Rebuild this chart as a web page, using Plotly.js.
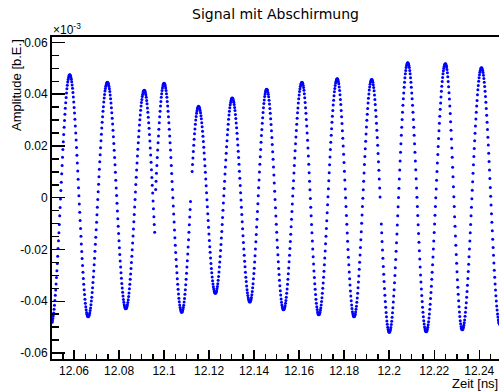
<!DOCTYPE html>
<html>
<head>
<meta charset="utf-8">
<script src="https://cdn.plot.ly/plotly-3.0.1.min.js"></script>
<style>
  html, body { margin: 0; padding: 0; background: #fff; }
  #chart { width: 499px; height: 392px; }
</style>
</head>
<body>
<div id="chart"></div>
<script>
// Two oscilloscope sweeps of the shielded signal.
// Time base in ns, amplitudes in units of 1e-6 b.E.
const sampleStep = 0.000178;
const sweepStart = [12.050257, 12.096262];

const sweepA = [
  -48.1,-47.5,-46.7,-45.7,-44.5,-43.1,-41.5,-39.7,-37.7,-35.6,-33.3,-30.8,-28.2,-25.4,-22.6,-19.6,-16.6,-13.5,-10.3,-7.0,-3.8,-0.5,2.8,6.0,9.3,12.5,15.6,18.6,21.6,24.4,27.2,29.8,32.3,34.6,36.7,38.7,40.5,42.1,43.5,44.7,45.7,46.5,47.1,47.4,
  47.5,47.4,47.1,46.5,45.8,44.8,43.6,42.3,40.7,38.9,37.0,34.9,32.7,30.3,27.7,25.0,22.3,19.4,16.4,13.4,10.3,7.1,3.9,0.8,-2.4,-5.6,-8.8,-11.9,-14.9,-17.9,-20.8,-23.5,-26.2,-28.8,-31.2,-33.4,-35.5,-37.4,-39.2,-40.8,-42.1,-43.3,-44.3,-45.0,-45.6,-45.9,
  -46.0,-45.9,-45.6,-45.1,-44.5,-43.6,-42.6,-41.3,-39.9,-38.4,-36.6,-34.8,-32.7,-30.6,-28.3,-25.9,-23.4,-20.7,-18.0,-15.3,-12.4,-9.5,-6.6,-3.7,-0.7,2.3,5.2,8.1,11.0,13.9,16.6,19.3,22.0,24.5,26.9,29.2,31.3,33.4,35.2,37.0,38.5,39.9,41.2,42.2,43.1,43.7,44.2,44.5,
  44.6,44.5,44.2,43.7,43.0,42.1,41.0,39.7,38.2,36.6,34.8,32.8,30.7,28.5,26.1,23.6,21.0,18.3,15.5,12.7,9.8,6.8,3.8,0.9,-2.1,-5.1,-8.1,-11.0,-13.8,-16.6,-19.3,-21.9,-24.4,-26.8,-29.0,-31.1,-33.1,-34.9,-36.5,-38.0,-39.3,-40.4,-41.3,-42.0,-42.5,-42.8,
  -42.9,-42.8,-42.5,-42.0,-41.3,-40.5,-39.4,-38.2,-36.8,-35.2,-33.4,-31.5,-29.5,-27.3,-25.0,-22.6,-20.1,-17.5,-14.8,-12.1,-9.3,-6.5,-3.6,-0.7,2.2,5.1,7.9,10.7,13.4,16.1,18.7,21.2,23.6,25.9,28.1,30.1,32.0,33.8,35.4,36.8,38.0,39.1,39.9,40.6,41.1,41.4,
  41.5,41.4,41.1,40.5,39.8,38.8,37.6,36.3,34.7,33.0,31.1,29.0,26.8,24.4,21.9,19.2,16.5,13.7,10.8,7.8,4.8,1.8,-1.3,-4.3,-7.3,-10.3,-13.3
];

const sweepB = [
  3.2,6.4,9.5,12.5,15.5,18.4,21.2,23.9,26.5,29.0,31.3,33.4,35.4,37.2,38.8,40.2,41.4,42.4,43.2,43.8,44.1,
  44.2,44.1,43.8,43.2,42.4,41.4,40.2,38.8,37.2,35.4,33.4,31.3,29.0,26.5,23.9,21.2,18.4,15.5,12.5,9.4,6.3,3.2,0.0,-3.2,-6.3,-9.4,-12.5,-15.5,-18.4,-21.2,-23.9,-26.5,-29.0,-31.3,-33.4,-35.4,-37.2,-38.8,-40.2,-41.4,-42.4,-43.2,-43.8,-44.1,
  -44.2,-44.1,-43.8,-43.2,-42.4,-41.5,-40.3,-38.9,-37.3,-35.5,-33.6,-31.5,-29.2,-26.8,-24.3,-21.7,-19.0,-16.2,-13.3,-10.4,-7.4,-4.5,-1.5,null,null,null,10.1,12.8,15.4,17.9,20.3,22.6,24.7,26.6,28.4,30.0,31.4,32.6,33.5,34.3,34.9,35.2,
  35.3,35.2,34.9,34.4,33.7,32.8,31.7,30.5,29.0,27.4,25.7,23.8,21.7,19.5,17.3,14.9,12.4,9.8,7.2,4.6,1.9,-0.8,-3.5,-6.2,-8.8,-11.4,-14.0,-16.5,-18.9,-21.1,-23.3,-25.4,-27.3,-29.0,-30.6,-32.1,-33.3,-34.4,-35.3,-36.0,-36.5,-36.8,
  -36.9,-36.8,-36.5,-36.0,-35.2,-34.3,-33.2,-31.9,-30.4,-28.7,-26.8,-24.8,-22.7,-20.4,-18.1,-15.6,-13.0,-10.3,-7.6,-4.8,-2.0,0.8,3.6,6.4,9.2,11.9,14.6,17.2,19.7,22.0,24.3,26.4,28.4,30.3,32.0,33.4,34.8,35.9,36.8,37.6,38.1,38.4,
  38.5,38.4,38.1,37.6,36.9,36.0,34.9,33.7,32.2,30.6,28.9,27.0,24.9,22.7,20.4,18.0,15.5,12.9,10.2,7.5,4.7,1.9,-0.9,-3.7,-6.5,-9.3,-12.0,-14.7,-17.3,-19.8,-22.2,-24.5,-26.7,-28.8,-30.7,-32.4,-34.1,-35.5,-36.7,-37.8,-38.7,-39.4,-39.9,-40.2,
  -40.3,-40.2,-39.8,-39.3,-38.5,-37.5,-36.2,-34.8,-33.2,-31.3,-29.3,-27.2,-24.8,-22.4,-19.8,-17.0,-14.2,-11.3,-8.3,-5.3,-2.3,0.8,3.9,6.9,9.9,12.9,15.8,18.6,21.4,24.0,26.4,28.8,30.9,32.9,34.8,36.4,37.8,39.1,40.1,40.9,41.4,41.8,
  41.9,41.8,41.4,40.8,40.0,39.0,37.7,36.2,34.5,32.6,30.5,28.3,25.9,23.3,20.6,17.8,14.9,11.9,8.8,5.7,2.5,-0.7,-3.9,-7.1,-10.2,-13.3,-16.3,-19.2,-22.0,-24.7,-27.3,-29.7,-31.9,-34.0,-35.9,-37.6,-39.1,-40.4,-41.4,-42.2,-42.8,-43.2,
  -43.3,-43.2,-42.9,-42.4,-41.7,-40.8,-39.7,-38.4,-36.9,-35.3,-33.4,-31.5,-29.4,-27.1,-24.7,-22.2,-19.6,-16.9,-14.1,-11.2,-8.3,-5.3,-2.4,0.7,3.7,6.6,9.6,12.5,15.4,18.2,20.9,23.5,26.0,28.4,30.7,32.8,34.7,36.6,38.2,39.7,41.0,42.1,43.0,43.7,44.2,44.5,
  44.6,44.5,44.1,43.5,42.6,41.5,40.2,38.6,36.8,34.8,32.6,30.2,27.7,25.0,22.2,19.2,16.1,12.9,9.7,6.4,3.1,-0.3,-3.7,-7.0,-10.3,-13.5,-16.7,-19.8,-22.8,-25.6,-28.3,-30.8,-33.2,-35.4,-37.4,-39.2,-40.8,-42.1,-43.2,-44.1,-44.7,-45.1,
  -45.2,-45.1,-44.8,-44.3,-43.5,-42.6,-41.4,-40.1,-38.6,-36.9,-35.0,-32.9,-30.7,-28.4,-25.9,-23.3,-20.6,-17.8,-14.9,-11.9,-8.9,-5.8,-2.7,0.4,3.5,6.6,9.7,12.7,15.7,18.6,21.4,24.1,26.7,29.2,31.5,33.7,35.8,37.7,39.4,40.9,42.2,43.4,44.3,45.0,45.6,45.9,
  46.0,45.9,45.5,44.8,44.0,42.8,41.4,39.8,38.0,36.0,33.7,31.3,28.7,25.9,23.0,20.0,16.8,13.6,10.2,6.9,3.4,0.0,-3.4,-6.9,-10.2,-13.6,-16.8,-20.0,-23.0,-25.9,-28.7,-31.3,-33.7,-36.0,-38.0,-39.8,-41.4,-42.8,-44.0,-44.8,-45.5,-45.9,
  -46.0,-45.9,-45.5,-45.0,-44.1,-43.1,-41.9,-40.4,-38.7,-36.9,-34.8,-32.6,-30.2,-27.6,-24.9,-22.1,-19.2,-16.2,-13.1,-9.9,-6.7,-3.4,-0.2,3.1,6.4,9.6,12.8,15.9,18.9,21.8,24.6,27.3,29.9,32.3,34.5,36.6,38.4,40.1,41.6,42.8,43.8,44.7,45.2,45.6,
  45.7,45.6,45.2,44.6,43.7,42.6,41.3,39.7,38.0,36.0,33.8,31.4,28.8,26.1,23.3,20.3,17.1,13.9,10.6,7.2,3.8,0.3,null,null,-10.1,-13.5,-16.9,-20.2,-23.4,-26.6,-29.6,-32.4,-35.1,-37.7,-40.1,-42.3,-44.3,-46.0,-47.6,-48.9,-50.0,-50.9,-51.5,-51.9,
  -52.0,-51.9,-51.5,-50.9,-50.1,-49.0,-47.7,-46.2,-44.4,-42.5,-40.3,-38.0,-35.5,-32.8,-30.0,-27.0,-23.9,-20.7,-17.4,-14.0,-10.5,-7.0,-3.5,0.1,3.7,7.2,10.7,14.2,17.6,20.9,24.1,27.2,30.2,33.0,35.7,38.2,40.5,42.7,44.6,46.4,47.9,49.2,50.3,51.1,51.7,52.1,
  52.2,52.1,51.7,51.1,50.3,49.2,47.9,46.4,44.6,42.7,40.5,38.2,35.7,33.0,30.2,27.2,24.1,20.9,17.6,14.2,10.8,7.3,3.8,0.2,-3.4,-6.9,-10.4,-13.8,-17.2,-20.5,-23.7,-26.8,-29.8,-32.6,-35.3,-37.8,-40.1,-42.3,-44.2,-46.0,-47.5,-48.8,-49.9,-50.7,-51.3,-51.7,
  -51.8,-51.7,-51.4,-50.8,-50.0,-49.1,-47.9,-46.5,-44.9,-43.1,-41.1,-38.9,-36.6,-34.2,-31.5,-28.8,-25.9,-22.9,-19.8,-16.7,-13.4,-10.1,-6.8,-3.4,0.0,3.4,6.8,10.1,13.4,16.7,19.8,22.9,25.9,28.8,31.5,34.2,36.6,38.9,41.1,43.1,44.9,46.5,47.9,49.1,50.0,50.8,51.4,51.7,
  51.8,51.7,51.2,50.5,49.5,48.3,46.7,44.9,42.9,40.6,38.1,35.4,32.5,29.4,26.1,22.7,19.2,15.6,11.8,8.1,4.2,0.4,-3.4,-7.3,-11.0,-14.8,-18.4,-21.9,-25.3,-28.6,-31.7,-34.6,-37.3,-39.8,-42.1,-44.1,-45.9,-47.5,-48.7,-49.7,-50.4,-50.9,
  -51.0,-50.9,-50.6,-50.0,-49.3,-48.3,-47.2,-45.8,-44.2,-42.5,-40.6,-38.4,-36.2,-33.8,-31.2,-28.5,-25.7,-22.8,-19.8,-16.7,-13.5,-10.3,-7.0,-3.7,-0.4,2.9,6.2,9.5,12.7,15.9,19.0,22.0,24.9,27.7,30.4,33.0,35.4,37.6,39.8,41.7,43.4,45.0,46.4,47.5,48.5,49.2,49.8,50.1,
  50.2,50.1,49.7,49.2,48.4,47.3,46.1,44.6,43.0,41.1,39.1,36.9,34.5,31.9,29.2,26.4,23.4,20.4,17.2,14.0,10.7,7.4,4.0,0.6,-2.8,-6.2,-9.5,-12.8,-16.0,-19.2,-22.2,-25.2,-28.0,-30.7,-33.3,-35.6,-37.9,-39.9,-41.8,-43.4,-44.9,-46.1,-47.2,-48.0,-48.5,-48.9
];

const xTickVals = [12.06, 12.08, 12.1, 12.12, 12.14, 12.16, 12.18, 12.2, 12.22, 12.24];
const xTickText = ['12.06', '12.08', '12.1', '12.12', '12.14', '12.16', '12.18', '12.2', '12.22', '12.24'];
const yTickVals = [-0.06, -0.04, -0.02, 0, 0.02, 0.04, 0.06];
const yTickText = ['-0.06', '-0.04', '-0.02', '0', '0.02', '0.04', '0.06'];

// the y axis is labelled in units of 1e-3 b.E.
const toAxisUnits = v => (v === null ? null : v / 1000);

const markerStyle = { size: 3, color: '#0000ff', line: { width: 0 } };

const traces = [sweepA, sweepB].map((sweep, i) => ({
  type: 'scatter',
  mode: 'markers',
  x0: sweepStart[i],
  dx: sampleStep,
  y: sweep.map(toAxisUnits),
  marker: markerStyle,
  hoverinfo: 'skip'
}));

const tickFont = { family: 'Liberation Sans, Arial, sans-serif', size: 12, color: '#000' };

const layout = {
  width: 499,
  height: 392,
  margin: { l: 52, r: 0, t: 37, b: 33, pad: 0 },
  paper_bgcolor: '#ffffff',
  plot_bgcolor: '#ffffff',
  showlegend: false,
  font: tickFont,
  title: {
    text: 'Signal mit Abschirmung',
    font: { family: 'DejaVu Sans, sans-serif', size: 14, color: '#000' },
    xref: 'paper', x: 0.5, xanchor: 'center',
    yref: 'container', y: 1 - 14 / 392, yanchor: 'middle'
  },
  xaxis: {
    range: [12.05022, 12.24876],
    tickmode: 'array', tickvals: xTickVals, ticktext: xTickText,
    ticks: 'inside', ticklen: 9, tickwidth: 1.5, tickcolor: '#000',
    minor: { dtick: 0.005, tick0: 12.06, ticks: 'inside', ticklen: 5, tickwidth: 1.5, tickcolor: '#000' },
    showline: true, linewidth: 2, linecolor: '#000', mirror: true,
    showgrid: false, zeroline: false,
    tickfont: tickFont
  },
  yaxis: {
    range: [-0.0623, 0.0621],
    tickmode: 'array', tickvals: yTickVals, ticktext: yTickText,
    ticks: 'inside', ticklen: 13, tickwidth: 1.5, tickcolor: '#000',
    minor: { dtick: 0.005, tick0: 0, ticks: 'inside', ticklen: 7, tickwidth: 1.5, tickcolor: '#000' },
    showline: true, linewidth: 2, linecolor: '#000',
    showgrid: false, zeroline: false,
    tickfont: tickFont
  },
  annotations: [
    {
      text: 'Amplitude [b.E.]', textangle: -90,
      xref: 'paper', yref: 'paper', x: 0, y: 1,
      xanchor: 'center', yanchor: 'top', xshift: -36, yshift: 0,
      showarrow: false, font: { family: 'Liberation Sans, Arial, sans-serif', size: 13, color: '#000' }
    },
    {
      text: 'Zeit [ns]',
      xref: 'paper', yref: 'paper', x: 1, y: 0,
      xanchor: 'right', yanchor: 'top', yshift: -16, borderpad: 0,
      showarrow: false, font: { family: 'Liberation Sans, Arial, sans-serif', size: 13, color: '#000' }
    },
    {
      text: '×10<sup>-3</sup>',
      xref: 'paper', yref: 'paper', x: 0, y: 1,
      xanchor: 'left', yanchor: 'bottom', xshift: -1, yshift: -2,
      showarrow: false, font: { family: 'Liberation Sans, Arial, sans-serif', size: 12, color: '#000' }
    }
  ]
};

Plotly.newPlot('chart', traces, layout, { staticPlot: true, displayModeBar: false });
</script>
</body>
</html>
